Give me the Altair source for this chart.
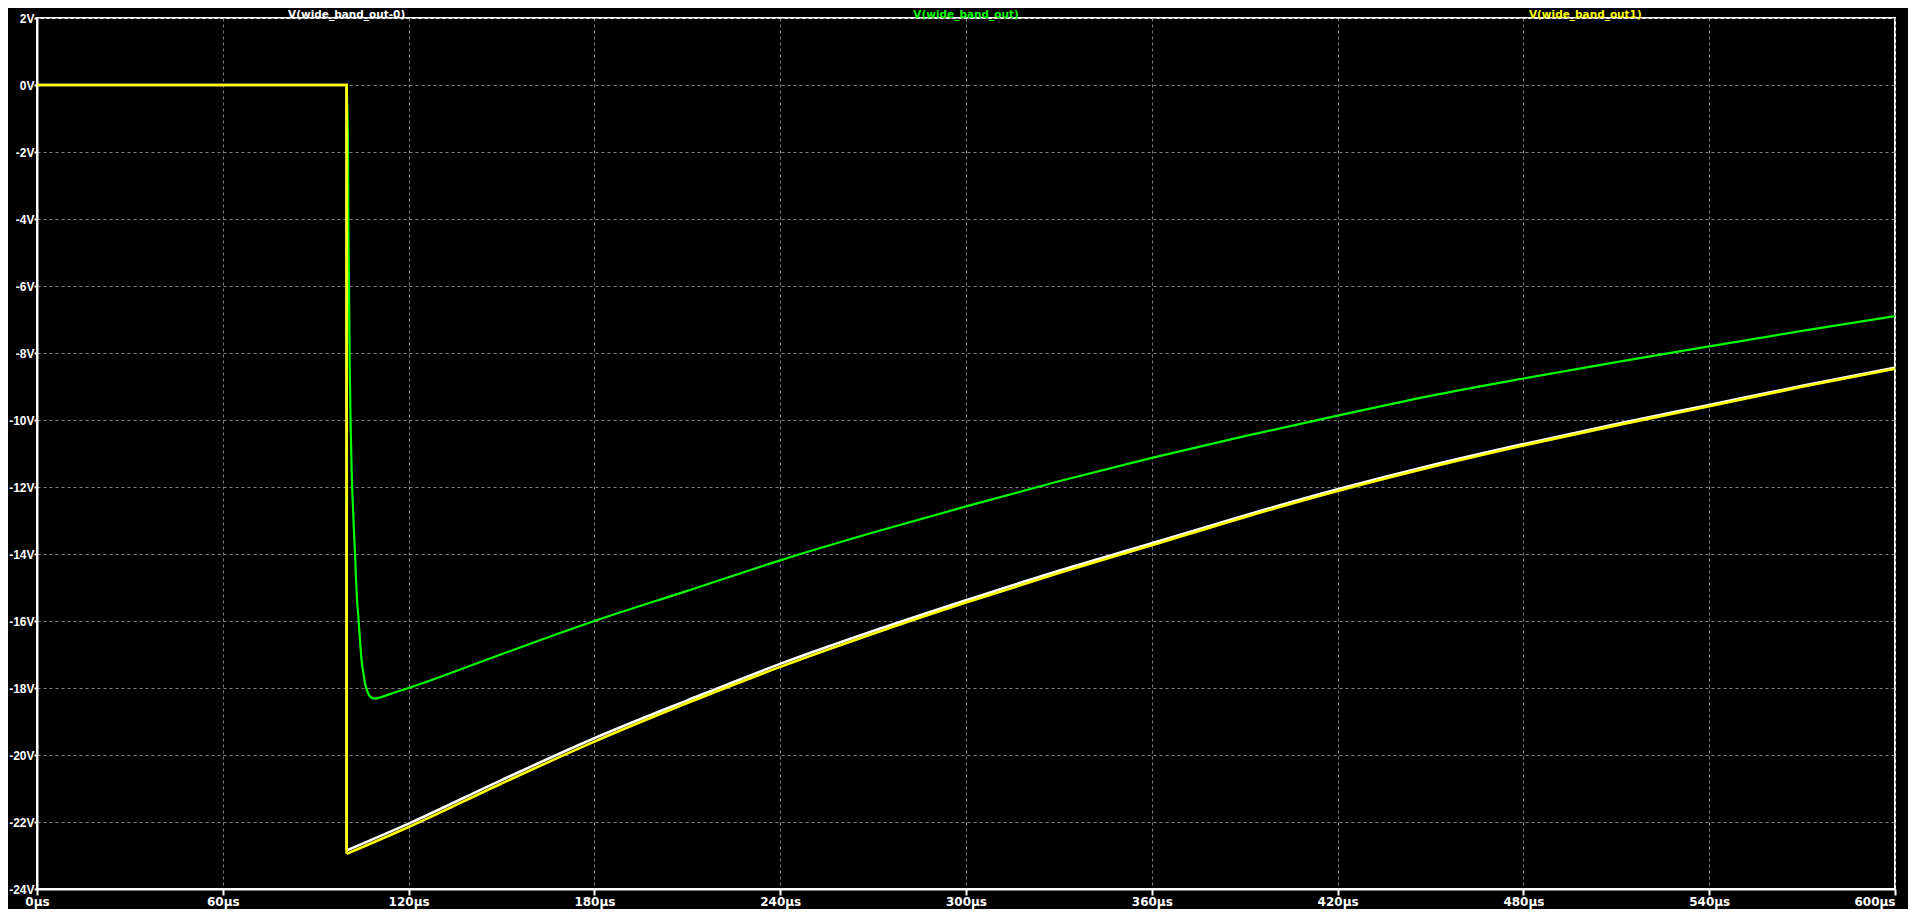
import altair as alt
import pandas as pd

# ---- data (time in µs, voltage in V) ----
t_out0 = [0, 100, 100, 120, 150, 180, 210, 240, 270, 300, 330, 360, 390, 420, 450, 480, 510, 540, 570, 600]
v_out0 = [0, 0, -22.85, -22.05, -20.75, -19.5, -18.37, -17.28, -16.3, -15.38, -14.5, -13.68, -12.85,
          -12.07, -11.36, -10.72, -10.12, -9.55, -8.98, -8.44]

t_out1 = [0, 100, 100, 120, 150, 180, 210, 240, 270, 300, 330, 360, 390, 420, 450, 480, 510, 540, 570, 600]
v_out1 = [0, 0, -22.95, -22.15, -20.85, -19.6, -18.45, -17.37, -16.38, -15.45, -14.57, -13.74, -12.9,
          -12.12, -11.41, -10.76, -10.16, -9.59, -9.01, -8.47]

t_out = [0, 100, 100.4, 100.5, 100.75, 101.0, 101.3, 101.6, 101.9, 102.3, 102.7, 103.0, 103.3, 103.8,
         104.1, 104.4, 104.8, 105.4, 105.9, 106.7, 107.5, 109.1, 110.8, 115, 120, 150, 180, 210, 240,
         270, 300, 330, 360, 390, 420, 450, 480, 510, 540, 570, 600]
v_out = [0, 0, -1.4, -3.6, -6.1, -8.5, -10.2, -11.5, -12.3, -13.2, -14.0, -14.7, -15.3, -15.9,
         -16.3, -16.7, -17.15, -17.55, -17.85, -18.1, -18.25, -18.32, -18.28, -18.15, -18.0, -16.99,
         -16.0, -15.1, -14.19, -13.36, -12.58, -11.83, -11.13, -10.48, -9.87, -9.28, -8.76, -8.27,
         -7.8, -7.34, -6.9]

# index at which the smooth (post-step) part of each trace begins
smooth_from = {"V(wide_band_out-0)": 2, "V(wide_band_out)": 2, "V(wide_band_out1)": 2}

series_names = ["V(wide_band_out-0)", "V(wide_band_out)", "V(wide_band_out1)"]
series_colors = ["#ffffff", "#00ff00", "#ffff00"]
label_pos = [100, 300, 500]  # label centres, in µs (thirds of the plot)

x_ticks = list(range(0, 601, 60))
y_ticks = list(range(-24, 3, 2))

rows = []
for name, ts, vs in zip(series_names, [t_out0, t_out, t_out1], [v_out0, v_out, v_out1]):
    s = smooth_from[name]
    for i, (t, v) in enumerate(zip(ts, vs)):
        if i <= s:
            rows.append({"series": name, "seg": "step", "idx": i, "t": t, "v": v})
        if i >= s:
            rows.append({"series": name, "seg": "curve", "idx": i, "t": t, "v": v})
df = pd.DataFrame(rows)
labels = pd.DataFrame({"series": series_names, "t": label_pos})

color = alt.Color("series:N", scale=alt.Scale(domain=series_names, range=series_colors), legend=None)
xs = alt.Scale(domain=[0, 600], nice=False, zero=False)
ys = alt.Scale(domain=[-24, 2], nice=False, zero=False)

xaxis = alt.Axis(values=x_ticks, labelExpr="datum.value + 'µs'", tickSize=6, labelPadding=1,
                 labelFlush=False, labelOverlap=False, labelFont="DejaVu Sans", labelFontSize=12,
                 labelAlign={"expr": "datum.value == 600 ? 'right' : 'center'"})
yaxis = alt.Axis(values=y_ticks, labelExpr="datum.value + 'V'", tickSize=3, labelPadding=0,
                 labelBaseline="middle", labelOverlap=False, labelFont="Liberation Sans",
                 labelFontSize=12)

def line(name, seg, width, interp):
    sub = df[(df.series == name) & (df.seg == seg)]
    return alt.Chart(sub).mark_line(strokeWidth=width, interpolate=interp, clip=True).encode(
        x=alt.X("t:Q", scale=xs, axis=xaxis, title=None),
        y=alt.Y("v:Q", scale=ys, axis=yaxis, title=None),
        color=color,
        order="idx:Q",
    )

text = alt.Chart(labels).mark_text(font="DejaVu Sans", fontWeight="bold", fontSize=10.5,
                                   baseline="middle", align="center").encode(
    x=alt.X("t:Q", scale=xs),
    y=alt.value(-3.5),
    text="series:N",
    color=color,
)

layers = []
for name, w in zip(series_names, [2.6, 2.2, 2.6]):
    layers.append(line(name, "step", w, "linear"))
    layers.append(line(name, "curve", w, "monotone"))

chart = alt.layer(*layers, text).properties(
    width=1858, height=871,
    autosize="none",
    padding={"left": 29, "top": 10, "right": 13, "bottom": 20},
).configure(background="black").configure_view(
    stroke="white", strokeWidth=2
).configure_axis(
    grid=True, gridColor="#808080", gridDash=[3, 3], gridWidth=1,
    domainColor="white", domainWidth=2, tickColor="white", tickWidth=2,
    labelColor="white", labelFontWeight="bold",
)

chart.save("out.html", embed_options={"renderer": "svg", "actions": False})
